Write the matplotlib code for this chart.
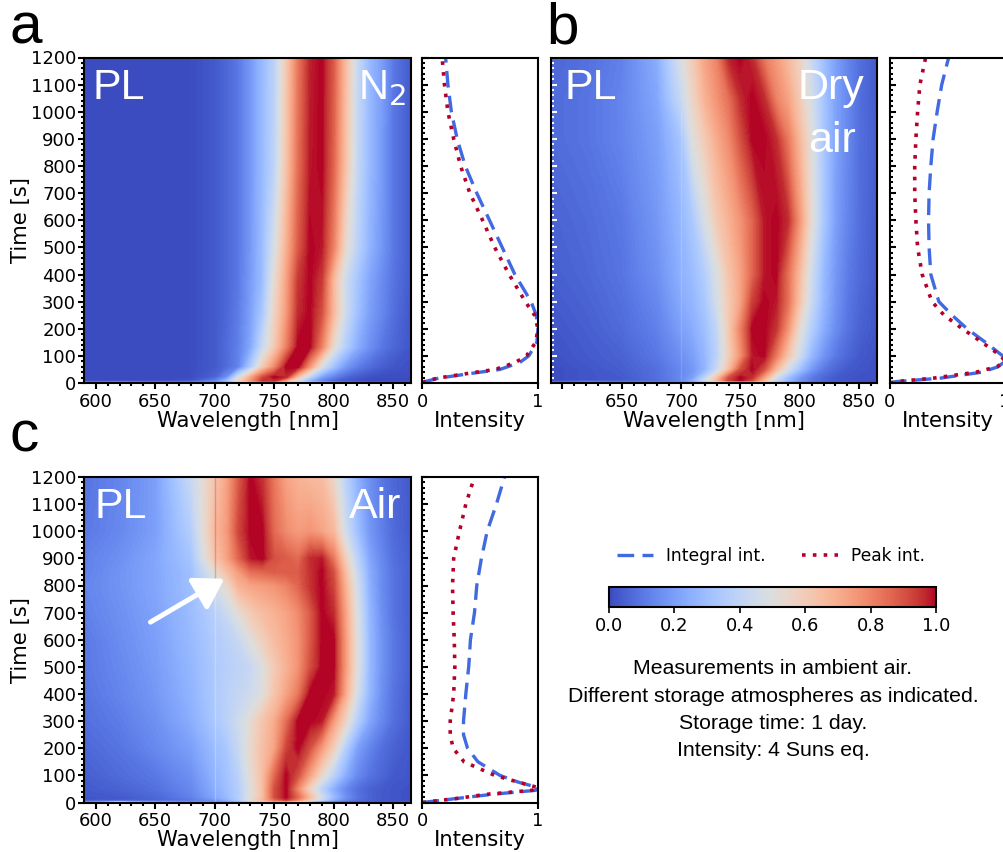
import numpy as np
import matplotlib
matplotlib.use("Agg")
import matplotlib.pyplot as plt
from matplotlib.cm import ScalarMappable
from matplotlib.colors import Normalize
from matplotlib.ticker import MultipleLocator

W, H = 1004, 852

# columns of the PL maps [nm]
wl = [590, 620, 650, 680, 700, 710, 720, 730, 740, 750, 760, 770, 780, 790, 800, 810, 820, 830, 840, 850, 865]

# panel a, N2
t_a = [0, 3, 8, 22, 59, 133, 258, 380, 500, 800, 1200]
pl_a = [
    [.25, .55, .28, .26, .24, .2, .15, .12, .1, .08, .06, .05, .05, .05, .05, .05, .05, .05, .05, .05, .05],
    [.1, .14, .1, .12, .16, .22, .3, .42, .55, .62, .62, .5, .34, .22, .14, .09, .06, .04, .03, .02, .02],
    [0, 0, 0, .02, .12, .28, .55, .75, .95, .95, .7, .45, .25, .12, .06, .03, .01, 0, 0, 0, 0],
    [0, 0, 0, 0, .05, .15, .46, .7, .9, 1, .96, .62, .38, .2, .12, .06, .03, .01, 0, 0, 0],
    [0, 0, 0, 0, .03, .07, .13, .34, .6, .78, 1, 1, .74, .47, .3, .18, .11, .07, .04, .02, .01],
    [0, 0, 0, 0, .03, .07, .12, .22, .42, .6, .8, 1, 1, .8, .53, .36, .24, .16, .1, .06, .02],
    [0, 0, 0, 0, .03, .06, .11, .2, .33, .56, .74, .96, 1, .9, .66, .44, .3, .2, .14, .08, .02],
    [0, 0, 0, 0, .03, .06, .1, .19, .29, .52, .72, .94, 1, .94, .66, .44, .32, .22, .15, .09, .03],
    [0, 0, 0, 0, .03, .06, .1, .18, .29, .47, .68, .88, 1, .98, .8, .54, .38, .26, .18, .1, .03],
    [0, 0, 0, 0, .03, .06, .1, .18, .28, .39, .62, .84, .98, 1, .86, .63, .41, .28, .19, .1, .03],
    [0, 0, 0, 0, .03, .06, .1, .18, .28, .38, .6, .82, .97, 1, .88, .65, .42, .28, .2, .1, .03],
]

# panel b, dry air
t_b = [0, 4, 10, 20, 50, 100, 200, 300, 400, 600, 900, 1050, 1200]
pl_b = [
    [.2, .55, .25, .22, .2, .15, .12, .1, .08, .08, .06, .05, .05, .05, .05, .05, .05, .05, .05, .05, .05],
    [.05, .1, .08, .1, .14, .22, .36, .5, .62, .68, .66, .5, .34, .24, .16, .1, .06, .04, .03, .02, .01],
    [0, .02, .03, .07, .14, .24, .44, .66, .92, 1, .9, .66, .42, .28, .17, .1, .06, .03, .02, .01, .01],
    [0, .02, .03, .08, .14, .2, .38, .62, .9, 1, .95, .72, .46, .3, .18, .1, .06, .03, .02, .01, .01],
    [0, .02, .04, .08, .14, .18, .26, .42, .64, .9, 1, .9, .66, .46, .3, .18, .1, .06, .03, .02, .01],
    [.01, .03, .05, .1, .16, .2, .27, .38, .58, .76, .98, 1, .82, .62, .44, .27, .17, .1, .06, .03, .01],
    [.02, .04, .07, .12, .2, .24, .3, .4, .6, .8, 1, 1, .95, .76, .52, .36, .24, .15, .09, .05, .02],
    [.03, .05, .08, .14, .23, .27, .33, .46, .6, .72, .93, 1, .98, .84, .62, .42, .27, .17, .1, .06, .02],
    [.04, .06, .09, .16, .25, .29, .36, .48, .62, .72, .86, .98, 1, .84, .65, .44, .28, .18, .11, .07, .03],
    [.05, .07, .1, .18, .27, .34, .47, .6, .68, .76, .86, .98, 1, .96, .75, .52, .33, .2, .13, .08, .03],
    [.07, .09, .13, .2, .32, .5, .6, .7, .78, .9, 1, 1, .96, .82, .66, .5, .33, .21, .14, .08, .04],
    [.07, .09, .13, .22, .42, .56, .68, .76, .84, .96, 1, .96, .8, .72, .6, .46, .32, .21, .14, .08, .03],
    [.06, .08, .12, .24, .48, .6, .72, .8, .97, 1, .96, .82, .74, .66, .56, .42, .3, .2, .13, .08, .03],
]

# panel c, air
t_c = [0, 4, 10, 20, 50, 100, 200, 300, 400, 500, 600, 700, 800, 850, 900, 1000, 1200]
pl_c = [
    [.2, .6, .25, .2, .2, .15, .12, .1, .08, .08, .06, .05, .05, .05, .05, .05, .05, .05, .05, .05, .05],
    [.08, .12, .1, .12, .15, .2, .28, .4, .55, .7, .72, .55, .35, .2, .12, .08, .05, .03, .02, .01, .01],
    [.02, .03, .05, .1, .18, .25, .35, .52, .66, .85, .95, .8, .6, .42, .25, .14, .08, .05, .03, .02, .01],
    [.02, .03, .06, .12, .22, .28, .36, .5, .64, .9, 1, .85, .65, .45, .28, .16, .09, .05, .03, .02, .01],
    [.03, .05, .08, .14, .24, .3, .36, .5, .64, .9, 1, .78, .56, .38, .24, .14, .08, .05, .03, .02, .01],
    [.04, .07, .1, .16, .26, .31, .38, .52, .64, .85, 1, .9, .72, .54, .38, .24, .14, .09, .06, .03, .02],
    [.06, .09, .14, .2, .29, .33, .42, .54, .64, .72, .92, 1, .9, .74, .58, .36, .2, .13, .08, .05, .02],
    [.08, .11, .16, .24, .33, .38, .44, .52, .62, .7, .84, 1, 1, .98, .74, .56, .36, .22, .14, .08, .03],
    [.09, .13, .18, .26, .34, .38, .41, .44, .5, .62, .72, .82, 1, 1, .98, .7, .46, .27, .16, .09, .03],
    [.1, .14, .19, .27, .34, .37, .39, .42, .49, .6, .68, .76, .9, 1, 1, .74, .5, .28, .17, .1, .04],
    [.1, .15, .2, .28, .35, .38, .42, .5, .58, .65, .7, .76, .88, 1, 1, .74, .5, .28, .17, .1, .04],
    [.12, .16, .21, .29, .37, .43, .52, .6, .65, .68, .72, .78, .88, 1, .96, .72, .48, .27, .16, .09, .04],
    [.13, .17, .22, .3, .46, .54, .68, .72, .74, .76, .8, .86, .95, 1, .92, .68, .45, .25, .15, .09, .04],
    [.12, .17, .22, .3, .52, .64, .74, .84, .86, .88, .88, .88, .95, 1, .9, .64, .42, .24, .15, .09, .04],
    [.12, .16, .22, .32, .62, .72, .86, .98, 1, .9, .88, .85, .96, .98, .82, .58, .38, .22, .14, .08, .04],
    [.1, .14, .2, .36, .66, .74, .92, 1, 1, .85, .78, .74, .76, .72, .66, .45, .3, .18, .12, .07, .03],
    [.09, .13, .2, .42, .62, .72, .88, 1, .95, .82, .72, .68, .66, .65, .55, .38, .25, .16, .1, .06, .03],
]

# side panels: intensity against time
tl_a = [0, 5, 18, 37, 50, 75, 100, 150, 200, 250, 300, 400, 500, 600, 700, 800, 900, 1000, 1100, 1200]
integ_a = [0, .02, .14, .45, .67, .84, .92, .99, 1, .985, .94, .8, .69, .58, .47, .37, .3, .25, .22, .2]
peak_a = [0, .02, .13, .42, .63, .8, .9, .98, 1, .97, .89, .75, .625, .52, .41, .33, .27, .22, .19, .17]

tl_b = [0, 5, 18, 40, 60, 80, 100, 150, 200, 250, 300, 400, 500, 600, 700, 800, 900, 1000, 1100, 1200]
integ_b = [0, .05, .44, .8, .94, 1, .98, .83, .67, .54, .425, .355, .34, .335, .34, .355, .375, .41, .45, .51]
peak_b = [0, .05, .38, .75, .93, 1, .965, .8, .63, .47, .365, .28, .24, .225, .215, .215, .225, .24, .26, .31]

tl_c = [0, 5, 15, 30, 45, 55, 75, 100, 150, 200, 250, 300, 400, 500, 600, 700, 800, 900, 1000, 1100, 1200]
integ_c = [0, .1, .3, .6, .98, 1, .83, .67, .48, .39, .355, .355, .375, .4, .415, .45, .47, .51, .56, .64, .71]
peak_c = [0, .1, .3, .55, .95, 1, .83, .625, .36, .265, .24, .24, .27, .28, .275, .265, .26, .27, .32, .375, .45]

cbar_ticks = [0.0, 0.2, 0.4, 0.6, 0.8, 1.0]
wl_ticks = [600, 650, 700, 750, 800, 850]
note = ["Measurements in ambient air.", "Different storage atmospheres as indicated.",
        "Storage time: 1 day.", "Intensity: 4 Suns eq."]

BLUE = "royalblue"
RED = "#b5002a"
SANS = "Liberation Sans"

plt.rcParams["font.size"] = 13
plt.rcParams["axes.linewidth"] = 1.5

fig = plt.figure(figsize=(W / 100, H / 100), dpi=100)


def px_axes(left, top, right, bottom):
    return fig.add_axes([left / W, 1 - bottom / H, (right - left) / W, (bottom - top) / H])


def map_panel(box, t, z, labels_left=True, xlabel600=True):
    ax = px_axes(*box)
    # contourf interpolates the values, not the colours, so the colormap is kept between cells
    ax.contourf(wl, t, np.array(z), levels=np.linspace(0, 1, 129), cmap="coolwarm", vmin=0, vmax=1,
                extend="both", antialiased=False)
    ax.set_xlim(590.5, 865)
    ax.set_ylim(0, 1200)
    ax.set_xticks(wl_ticks)
    if not xlabel600:
        ax.set_xticklabels(["", "650", "700", "750", "800", "850"])
    ax.xaxis.set_minor_locator(MultipleLocator(10))
    ax.set_yticks(range(0, 1201, 100))
    ax.yaxis.set_minor_locator(MultipleLocator(20))
    ax.tick_params(axis="x", which="major", length=4, width=1.5, pad=3, labelsize=13)
    ax.tick_params(axis="x", which="minor", length=2.5, width=1.5)
    if labels_left:
        ax.tick_params(axis="y", which="major", length=4, width=1.5, pad=2, labelsize=13)
        ax.tick_params(axis="y", which="minor", length=2.5, width=1.5)
        ax.set_ylabel("Time [s]", fontsize=15.2, labelpad=0)
    else:
        ax.tick_params(axis="y", which="major", direction="in", color="white", length=4, width=1.5, labelleft=False)
        ax.tick_params(axis="y", which="minor", direction="in", color="white", length=2.5, width=1.5)
    ax.set_xlabel("Wavelength [nm]", fontsize=15.2, labelpad=0)
    return ax


def side_panel(box, t, integ, peak):
    ax = px_axes(*box)
    l1, = ax.plot(integ, t, color=BLUE, ls=(0, (5, 2.5)), lw=2.4)
    l2, = ax.plot(peak, t, color=RED, ls=(0, (1, 2)), lw=2.6)
    ax.set_xlim(0, 1)
    ax.set_ylim(0, 1200)
    ax.set_xticks([0, 1])
    ax.set_xticklabels(["0", "1"])
    ax.set_yticks(range(0, 1201, 100))
    ax.yaxis.set_minor_locator(MultipleLocator(20))
    ax.tick_params(axis="x", length=4, width=1.5, pad=3, labelsize=13)
    ax.tick_params(axis="y", which="major", direction="in", length=4, width=1.5, labelleft=False)
    ax.tick_params(axis="y", which="minor", direction="in", length=2.5, width=1.5)
    ax.set_xlabel("Intensity", fontsize=15.2, labelpad=0)
    return l1, l2


def tag(ax, x, y, s, ha="left", size=31):
    ax.text(x, y, s, transform=ax.transAxes, color="white", fontsize=size, family=SANS, ha=ha, va="center")


# a
ax_a = map_panel((84.5, 57.5, 411, 383), t_a, pl_a)
line1, line2 = side_panel((422.5, 57.5, 538, 383), tl_a, integ_a, peak_a)
tag(ax_a, 0.026, 0.907, "PL")
ax_a.text(0.985, 0.907, r"N$_2$", transform=ax_a.transAxes, color="white", fontsize=30, ha="right", va="center",
          math_fontfamily="dejavusans", family=SANS)

# b
ax_b = map_panel((551, 57.5, 877, 383), t_b, pl_b, labels_left=False, xlabel600=False)
ax_b.vlines(700, 0, 1000, color="white", alpha=0.15, lw=1)
side_panel((890, 57.5, 1005, 383), tl_b, integ_b, peak_b)
tag(ax_b, 0.04, 0.907, "PL")
tag(ax_b, 0.96, 0.907, "Dry", ha="right")
tag(ax_b, 0.935, 0.745, "air", ha="right")

# c
ax_c = map_panel((84.5, 477, 411, 802.5), t_c, pl_c)
ax_c.vlines(700, 0, 820, color="white", alpha=0.25, lw=1)
ax_c.vlines(700, 820, 1200, color="#b40426", alpha=0.25, lw=1)
side_panel((422.5, 477, 538, 802.5), tl_c, integ_c, peak_c)
tag(ax_c, 0.032, 0.907, "PL")
tag(ax_c, 0.969, 0.907, "Air", ha="right")
ax_c.annotate("", xy=(708, 825), xytext=(646, 665),
              arrowprops=dict(arrowstyle="-|>,head_length=0.8,head_width=0.5", color="white", lw=3.6,
                              mutation_scale=22, shrinkA=0, shrinkB=0))

# panel letters
for s, x, y in [("a", 9, 28), ("b", 546, 28), ("c", 10, 437)]:
    fig.text(x / W, 1 - y / H, s, fontsize=42, family=SANS, ha="left", va="center")

# legend
fig.legend([line1, line2], ["Integral int.", "Peak int."], ncol=2, frameon=False, fontsize=12.3,
           loc="center", bbox_to_anchor=(771 / W, 1 - 556 / H), columnspacing=2.1, handlelength=2.1, handletextpad=0.8)

# colorbar
cax = px_axes(609, 587, 936, 607)
cb = fig.colorbar(ScalarMappable(Normalize(0, 1), "coolwarm"), cax=cax, orientation="horizontal")
cb.set_ticks(cbar_ticks)
cb.ax.tick_params(length=4, width=1.2, labelsize=13, pad=3)
cb.outline.set_linewidth(1.5)

# text block
for i, s in enumerate(note):
    fig.text(773 / W, 1 - (669 + i * 27.3) / H, s, fontsize=15.3, family=SANS, ha="center", va="center")

fig.savefig("out.png", dpi=100)
